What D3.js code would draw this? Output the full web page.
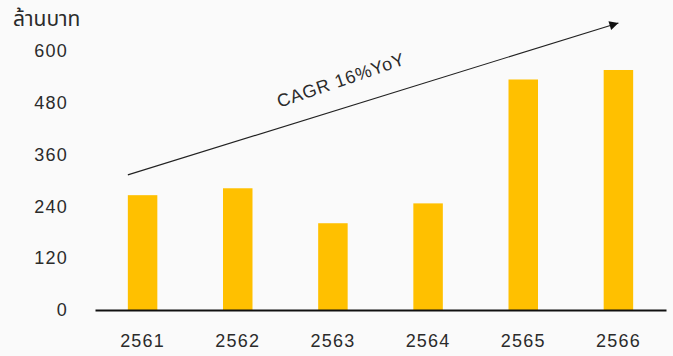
<!DOCTYPE html>
<html><head><meta charset="utf-8">
<script src="https://cdn.jsdelivr.net/npm/d3@7"></script>
<style>
html,body{margin:0;padding:0;background:#fafafa;}
svg{display:block;}
</style></head>
<body>
<script>
const categories = ["2561","2562","2563","2564","2565","2566"];
const values = [266, 282, 201, 247, 534, 556];
const yTicks = [0, 120, 240, 360, 480, 600];
const unitLabel = "ล้านบาท";
const annotationText = "CAGR 16%YoY";
const arrowFrom = {cat: "2561", value: 313};
const arrowTo = {cat: "2566", value: 665};

const W = 673, H = 356;
const svg = d3.select("body").append("svg").attr("width", W).attr("height", H);
svg.append("rect").attr("width", W).attr("height", H).attr("fill", "#fafafa");

const x = d3.scaleBand().domain(categories).range([95, 666]).paddingInner(0.69).paddingOuter(0.345);
const y = d3.scaleLinear().domain([0, 600]).range([310, 51]);

const font = "'Liberation Sans', Arial, Helvetica, sans-serif";
const textColor = "#2b2b2b";

// bars
svg.selectAll("rect.bar").data(categories).enter().append("rect")
  .attr("class", "bar")
  .attr("x", d => x(d))
  .attr("width", x.bandwidth())
  .attr("y", (d, i) => y(values[i]))
  .attr("height", (d, i) => y(0) - y(values[i]))
  .attr("fill", "#FFC000");

// x axis
const xAxis = svg.append("g").attr("transform", `translate(0,${y(0)})`)
  .call(d3.axisBottom(x).tickSize(0).tickPadding(24).tickSizeOuter(0));
xAxis.select(".domain").attr("stroke", "#111").attr("stroke-width", 2);
xAxis.selectAll("text").attr("font-family", font).attr("font-size", 18)
  .attr("letter-spacing", "1.2px").attr("fill", textColor);

// y axis labels
const yAxis = svg.append("g").attr("transform", `translate(68,0)`)
  .call(d3.axisLeft(y).tickValues(yTicks).tickSize(0).tickPadding(0));
yAxis.select(".domain").remove();
yAxis.selectAll("text").attr("font-family", font).attr("font-size", 18)
  .attr("letter-spacing", "1.2px").attr("fill", textColor);

// unit label
svg.append("text").attr("x", 13).attr("y", 26)
  .attr("font-family", "'Noto Sans Thai', 'Noto Sans', " + font)
  .attr("font-size", 21).attr("fill", textColor).text(unitLabel);

// arrow
const defs = svg.append("defs");
defs.append("marker").attr("id", "ah").attr("viewBox", "0 0 10 10")
  .attr("refX", 10).attr("refY", 5).attr("markerWidth", 12).attr("markerHeight", 9)
  .attr("markerUnits", "userSpaceOnUse").attr("orient", "auto")
  .append("path").attr("d", "M0,0 L10,5 L0,10 Z").attr("fill", "#111");

const x1 = x(arrowFrom.cat), y1 = y(arrowFrom.value);
const x2 = x(arrowTo.cat) + x.bandwidth() / 2, y2 = y(arrowTo.value);
svg.append("line").attr("x1", x1).attr("y1", y1).attr("x2", x2).attr("y2", y2)
  .attr("stroke", "#222").attr("stroke-width", 1.1).attr("marker-end", "url(#ah)");

svg.append("text")
  .attr("transform", `translate(343,86) rotate(-19)`)
  .attr("text-anchor", "middle")
  .attr("font-family", font).attr("font-size", 18).attr("letter-spacing", "0.8px")
  .attr("fill", textColor).text(annotationText);
</script>
</body></html>
